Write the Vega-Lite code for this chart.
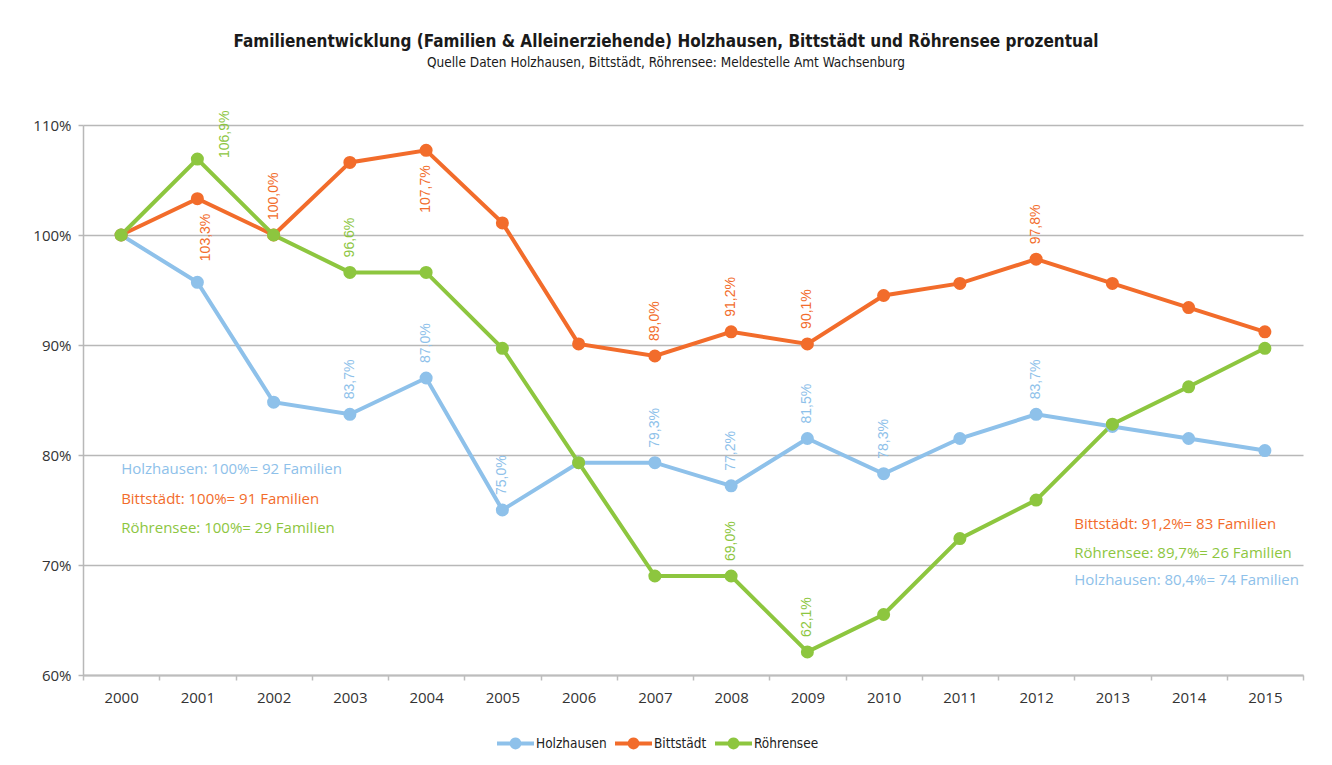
{
  "$schema": "https://vega.github.io/schema/vega-lite/v6.json",
  "autosize": "none",
  "width": 1220,
  "height": 550,
  "padding": {"left": 83, "top": 125, "right": 29, "bottom": 90},
  "background": "white",
  "config": {
    "locale": {"number": {"decimal": ",", "thousands": ".", "grouping": [3], "currency": ["", " €"]}},
    "view": {"stroke": null},
    "font": "Open Sans"
  },
  "title": {
    "text": "Familienentwicklung (Familien & Alleinerziehende) Holzhausen, Bittstädt und Röhrensee prozentual",
    "subtitle": "Quelle Daten Holzhausen, Bittstädt, Röhrensee: Meldestelle Amt Wachsenburg",
    "anchor": "middle",
    "frame": "group",
    "dx": -27,
    "offset": 40,
    "font": "'DejaVu Sans Condensed', 'Open Sans', sans-serif",
    "fontSize": 17,
    "fontWeight": "bold",
    "color": "#1a1a1a",
    "subtitleFont": "'DejaVu Sans Condensed', 'Open Sans', sans-serif",
    "subtitleFontSize": 13.5,
    "subtitleColor": "#1a1a1a",
    "subtitlePadding": 5
  },
  "data": {
    "values": [
      {"Jahr": "2000", "Ort": "Holzhausen", "Anteil": 1.0},
      {"Jahr": "2001", "Ort": "Holzhausen", "Anteil": 0.957},
      {"Jahr": "2002", "Ort": "Holzhausen", "Anteil": 0.848},
      {"Jahr": "2003", "Ort": "Holzhausen", "Anteil": 0.837},
      {"Jahr": "2004", "Ort": "Holzhausen", "Anteil": 0.870},
      {"Jahr": "2005", "Ort": "Holzhausen", "Anteil": 0.750},
      {"Jahr": "2006", "Ort": "Holzhausen", "Anteil": 0.793},
      {"Jahr": "2007", "Ort": "Holzhausen", "Anteil": 0.793},
      {"Jahr": "2008", "Ort": "Holzhausen", "Anteil": 0.772},
      {"Jahr": "2009", "Ort": "Holzhausen", "Anteil": 0.815},
      {"Jahr": "2010", "Ort": "Holzhausen", "Anteil": 0.783},
      {"Jahr": "2011", "Ort": "Holzhausen", "Anteil": 0.815},
      {"Jahr": "2012", "Ort": "Holzhausen", "Anteil": 0.837},
      {"Jahr": "2013", "Ort": "Holzhausen", "Anteil": 0.826},
      {"Jahr": "2014", "Ort": "Holzhausen", "Anteil": 0.815},
      {"Jahr": "2015", "Ort": "Holzhausen", "Anteil": 0.804},
      {"Jahr": "2000", "Ort": "Bittstädt", "Anteil": 1.0},
      {"Jahr": "2001", "Ort": "Bittstädt", "Anteil": 1.033},
      {"Jahr": "2002", "Ort": "Bittstädt", "Anteil": 1.0},
      {"Jahr": "2003", "Ort": "Bittstädt", "Anteil": 1.066},
      {"Jahr": "2004", "Ort": "Bittstädt", "Anteil": 1.077},
      {"Jahr": "2005", "Ort": "Bittstädt", "Anteil": 1.011},
      {"Jahr": "2006", "Ort": "Bittstädt", "Anteil": 0.901},
      {"Jahr": "2007", "Ort": "Bittstädt", "Anteil": 0.890},
      {"Jahr": "2008", "Ort": "Bittstädt", "Anteil": 0.912},
      {"Jahr": "2009", "Ort": "Bittstädt", "Anteil": 0.901},
      {"Jahr": "2010", "Ort": "Bittstädt", "Anteil": 0.945},
      {"Jahr": "2011", "Ort": "Bittstädt", "Anteil": 0.956},
      {"Jahr": "2012", "Ort": "Bittstädt", "Anteil": 0.978},
      {"Jahr": "2013", "Ort": "Bittstädt", "Anteil": 0.956},
      {"Jahr": "2014", "Ort": "Bittstädt", "Anteil": 0.934},
      {"Jahr": "2015", "Ort": "Bittstädt", "Anteil": 0.912},
      {"Jahr": "2000", "Ort": "Röhrensee", "Anteil": 1.0},
      {"Jahr": "2001", "Ort": "Röhrensee", "Anteil": 1.069},
      {"Jahr": "2002", "Ort": "Röhrensee", "Anteil": 1.0},
      {"Jahr": "2003", "Ort": "Röhrensee", "Anteil": 0.966},
      {"Jahr": "2004", "Ort": "Röhrensee", "Anteil": 0.966},
      {"Jahr": "2005", "Ort": "Röhrensee", "Anteil": 0.897},
      {"Jahr": "2006", "Ort": "Röhrensee", "Anteil": 0.793},
      {"Jahr": "2007", "Ort": "Röhrensee", "Anteil": 0.690},
      {"Jahr": "2008", "Ort": "Röhrensee", "Anteil": 0.690},
      {"Jahr": "2009", "Ort": "Röhrensee", "Anteil": 0.621},
      {"Jahr": "2010", "Ort": "Röhrensee", "Anteil": 0.655},
      {"Jahr": "2011", "Ort": "Röhrensee", "Anteil": 0.724},
      {"Jahr": "2012", "Ort": "Röhrensee", "Anteil": 0.759},
      {"Jahr": "2013", "Ort": "Röhrensee", "Anteil": 0.828},
      {"Jahr": "2014", "Ort": "Röhrensee", "Anteil": 0.862},
      {"Jahr": "2015", "Ort": "Röhrensee", "Anteil": 0.897}
    ]
  },
  "encoding": {
    "x": {
      "field": "Jahr", "type": "ordinal",
      "scale": {"type": "band", "paddingInner": 0, "paddingOuter": 0},
      "axis": {
        "title": null, "labelAngle": 0, "tickBand": "extent",
        "domainColor": "#bdbdbd", "domainWidth": 2, "tickColor": "#bdbdbd", "tickWidth": 1.5, "tickSize": 5,
        "labelFont": "Open Sans", "labelFontSize": 15, "labelColor": "#333333", "labelPadding": 10, "grid": false
      }
    },
    "y": {
      "field": "Anteil", "type": "quantitative",
      "scale": {"domain": [0.6, 1.1], "nice": false, "zero": false},
      "axis": {
        "title": null, "values": [0.6, 0.7, 0.8, 0.9, 1.0, 1.1], "format": ".0%",
        "grid": true, "gridColor": "#b8b8b8", "gridWidth": 1.5,
        "domainColor": "#b8b8b8", "domainWidth": 1.5, "tickColor": "#b8b8b8", "tickWidth": 1.5, "tickSize": 5,
        "labelFont": "Open Sans", "labelFontSize": 15, "labelColor": "#333333", "labelPadding": 7
      }
    },
    "color": {
      "field": "Ort", "type": "nominal",
      "scale": {"domain": ["Holzhausen", "Bittstädt", "Röhrensee"], "range": ["#8ec1ea", "#f26c2b", "#8dc63f"]},
      "legend": {
        "title": null, "orient": "none", "direction": "horizontal", "legendX": 414, "legendY": 600,
        "symbolType": "M-1,-0.11 L-0.3,-0.11 A0.32,0.32 0 0,1 0.3,-0.11 L1,-0.11 L1,0.11 L0.3,0.11 A0.32,0.32 0 0,1 -0.3,0.11 L-1,0.11 Z",
        "symbolSize": 1369, "symbolStrokeWidth": 0, "symbolOpacity": 1,
        "labelFont": "'DejaVu Sans Condensed', 'Open Sans', sans-serif", "labelFontSize": 13.5, "labelColor": "#222222",
        "labelOffset": 2, "columnPadding": 8
      }
    }
  },
  "layer": [
    {"mark": {"type": "line", "strokeWidth": 4}},
    {"mark": {"type": "point", "filled": true, "size": 170, "opacity": 1}},
    {
      "transform": [{"filter": "(datum.Ort == 'Röhrensee' && indexof(['2003','2008','2009'], datum.Jahr) >= 0) || (datum.Ort == 'Bittstädt' && indexof(['2002','2007','2008','2009','2012'], datum.Jahr) >= 0) || (datum.Ort == 'Holzhausen' && indexof(['2003','2004','2005','2007','2008','2009','2010','2012'], datum.Jahr) >= 0)"}],
      "mark": {"type": "text", "angle": 270, "align": "left", "baseline": "middle", "dx": 15, "font": "Liberation Sans", "fontSize": 14},
      "encoding": {"text": {"field": "Anteil", "type": "quantitative", "format": ".1%"}}
    },
    {
      "transform": [{"filter": "datum.Ort == 'Bittstädt' && datum.Jahr == '2004'"}],
      "mark": {"type": "text", "angle": 270, "align": "right", "baseline": "middle", "dx": -15, "font": "Liberation Sans", "fontSize": 14},
      "encoding": {"text": {"field": "Anteil", "type": "quantitative", "format": ".1%"}}
    },
    {
      "transform": [{"filter": "datum.Ort == 'Bittstädt' && datum.Jahr == '2001'"}],
      "mark": {"type": "text", "angle": 270, "align": "right", "baseline": "middle", "dx": -15, "dy": 9, "font": "Liberation Sans", "fontSize": 14},
      "encoding": {"text": {"field": "Anteil", "type": "quantitative", "format": ".1%"}}
    },
    {
      "transform": [{"filter": "datum.Ort == 'Röhrensee' && datum.Jahr == '2001'"}],
      "mark": {"type": "text", "angle": 270, "align": "left", "baseline": "middle", "dx": 1, "dy": 28, "font": "Liberation Sans", "fontSize": 14},
      "encoding": {"text": {"field": "Anteil", "type": "quantitative", "format": ".1%"}}
    },
    {
      "data": {
        "values": [
          {"Jahr": "2000", "Anteil": 0.787, "Ort": "Holzhausen", "Text": "Holzhausen: 100%= 92 Familien"},
          {"Jahr": "2000", "Anteil": 0.760, "Ort": "Bittstädt", "Text": "Bittstädt: 100%= 91 Familien"},
          {"Jahr": "2000", "Anteil": 0.734, "Ort": "Röhrensee", "Text": "Röhrensee: 100%= 29 Familien"}
        ]
      },
      "mark": {"type": "text", "align": "left", "baseline": "middle", "font": "Open Sans", "fontSize": 15},
      "encoding": {"text": {"field": "Text"}}
    },
    {
      "data": {
        "values": [
          {"Jahr": "2013", "Anteil": 0.737, "Ort": "Bittstädt", "Text": "Bittstädt: 91,2%= 83 Familien"},
          {"Jahr": "2013", "Anteil": 0.711, "Ort": "Röhrensee", "Text": "Röhrensee: 89,7%= 26 Familien"},
          {"Jahr": "2013", "Anteil": 0.686, "Ort": "Holzhausen", "Text": "Holzhausen: 80,4%= 74 Familien"}
        ]
      },
      "mark": {"type": "text", "align": "left", "baseline": "middle", "font": "Open Sans", "fontSize": 15},
      "encoding": {
        "x": {"field": "Jahr", "type": "ordinal", "bandPosition": 0},
        "text": {"field": "Text"}
      }
    }
  ]
}
